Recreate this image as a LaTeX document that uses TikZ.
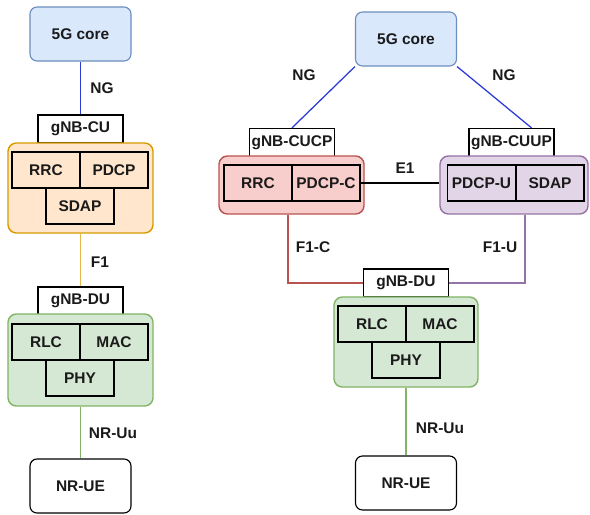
\documentclass[tikz,border=0pt]{standalone}
\usepackage{fontspec}
\setmainfont{Liberation Sans}
\usetikzlibrary{positioning,calc}
\definecolor{coreblue}{HTML}{DAE8FC}
\definecolor{coreline}{HTML}{6C8EBF}
\definecolor{cuorange}{HTML}{FFE6CC}
\definecolor{culine}{HTML}{D79B00}
\definecolor{dugreen}{HTML}{D5E8D4}
\definecolor{duline}{HTML}{82B366}
\definecolor{cpred}{HTML}{F8CECC}
\definecolor{cpline}{HTML}{B85450}
\definecolor{uppurple}{HTML}{E1D5E7}
\definecolor{upline}{HTML}{9673A6}
\definecolor{nglink}{HTML}{2B3BD6}
\definecolor{f1link}{HTML}{E8B54A}
\definecolor{ink}{HTML}{1A1A1A}

\begin{document}
\begin{tikzpicture}[
  x=0.025cm, y=-0.025cm,
  font=\bfseries\fontsize{11}{13}\selectfont, text=ink,
  endpt/.style={draw,rounded corners=5pt,line width=0.8pt,
                minimum width=2.525cm,minimum height=1.35cm},
  tag/.style={draw,fill=white,line width=0.9pt,
              minimum width=2.125cm,minimum height=0.7cm,inner sep=1pt},
  layer/.style={draw,line width=0.9pt,minimum width=1.7cm,
                minimum height=0.9cm,inner sep=1pt},
  group/.style={draw,rounded corners=6pt,line width=1pt},
  link/.style={line width=0.9pt},
  lbl/.style={inner sep=1pt}
]
\useasboundingbox (0,0) rectangle (590,514);

% ---- Left: monolithic gNB ----------------------------------
\node[endpt,draw=coreline,fill=coreblue] (core1) at (80.5,34) {5G core};
\node[tag] (cu1) at (80.5,129) {gNB-CU};
\node[group,draw=culine,fill=cuorange,minimum width=3.625cm,
      minimum height=2.25cm] (cubox1) at (80.5,188) {};
\node[layer,fill=cuorange] (rrc1)  at (46,170)  {RRC};
\node[layer,fill=cuorange] (pdcp1) at (114,170) {PDCP};
\node[layer,fill=cuorange] (sdap1) at (80,206)  {SDAP};

\node[tag] (du1) at (80.5,301) {gNB-DU};
\node[group,draw=duline,fill=dugreen,minimum width=3.625cm,
      minimum height=2.3cm] (dubox1) at (80.5,360) {};
\node[layer,fill=dugreen] (rlc1) at (46,342)  {RLC};
\node[layer,fill=dugreen] (mac1) at (114,342) {MAC};
\node[layer,fill=dugreen] (phy1) at (80,378)  {PHY};

\node[endpt,fill=white] (ue1) at (80.5,486) {NR-UE};

\draw[link,nglink] (core1) -- (cu1);
\draw[link,f1link] (cubox1) -- (du1);
\draw[link,duline] (dubox1) -- (ue1);
\node[lbl] (ng1) at (102,88) {NG};
\node[lbl] (f1) at (100,262) {F1};
\node[lbl] (uu1) at (113,433) {NR-Uu};

% ---- Right: split CU-CP / CU-UP ----------------------------
\node[endpt,draw=coreline,fill=coreblue] (core2) at (406,39) {5G core};

\node[tag] (cucp) at (292,142.5) {gNB-CUCP};
\node[group,draw=cpline,fill=cpred,minimum width=3.625cm,
      minimum height=1.45cm] (cpbox) at (291.5,185) {};
\node[layer,fill=cpred] (rrc2)  at (258,183) {RRC};
\node[layer,fill=cpred] (pdcpc) at (326,183) {PDCP-C};

\node[tag] (cuup) at (511.5,142.5) {gNB-CUUP};
\node[group,draw=upline,fill=uppurple,minimum width=3.7cm,
      minimum height=1.45cm] (upbox) at (514,185) {};
\node[layer,fill=uppurple] (pdcpu) at (481.5,183) {PDCP-U};
\node[layer,fill=uppurple] (sdap2) at (550,183)   {SDAP};

\node[tag] (du2) at (406,283) {gNB-DU};
\node[group,draw=duline,fill=dugreen,minimum width=3.6cm,
      minimum height=2.25cm] (dubox2) at (406,342) {};
\node[layer,fill=dugreen] (rlc2) at (372,324) {RLC};
\node[layer,fill=dugreen] (mac2) at (440,324) {MAC};
\node[layer,fill=dugreen] (phy2) at (406,360) {PHY};

\node[endpt,fill=white] (ue2) at (406,483) {NR-UE};

\draw[link,nglink] (core2.south west) -- (cucp.north);
\draw[link,nglink] (core2.south east) -- ($(cuup.north)+(20,0)$);
\draw[link] (pdcpc.east) -- (pdcpc.east -| upbox.west);
\draw[link,cpline] ($(cpbox.south)+(-3.5,0)$) |- (du2.west);
\draw[link,upline] ($(upbox.south)+(11,0)$) |- (du2.east);
\draw[link,duline] (dubox2) -- (ue2);

\node[lbl] (ng2) at (304,75) {NG};
\node[lbl] (ng3) at (504,75) {NG};
\node[lbl] (e1) at (405,168) {E1};
\node[lbl] (f1c) at (313,247) {F1-C};
\node[lbl] (f1u) at (500,247) {F1-U};
\node[lbl] (uu2) at (440,428) {NR-Uu};

\end{tikzpicture}
\end{document}
